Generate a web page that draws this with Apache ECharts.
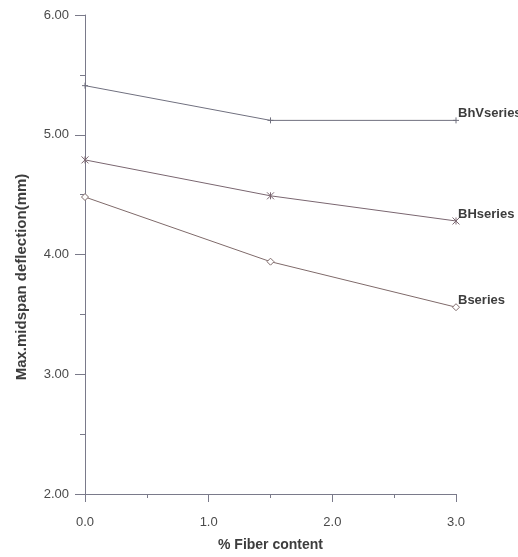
<!DOCTYPE html>
<html><head><meta charset="utf-8">
<script src="https://cdn.jsdelivr.net/npm/echarts@6/dist/echarts.min.js"></script>
<style>html,body{margin:0;padding:0;background:#fff}#c{width:518px;height:557px}</style>
</head><body><div id="c"></div>
<script>
const fiber = [0.0, 1.5, 3.0];
const bhvSeries = [5.41, 5.12, 5.12];
const bhSeries = [4.79, 4.49, 4.28];
const bSeries = [4.48, 3.94, 3.56];
const seriesNames = ['BhVseries', 'BHseries', 'Bseries'];

const chart = echarts.init(document.getElementById('c'));
const pair = arr => fiber.map((x, i) => [x, arr[i]]);
const crossPath = 'path://M0,0L10,10M10,0L0,10M5,0L5,10';
const plusPath = 'path://M5,0L5,10M3,5L7,5';
const FONT = 'Liberation Sans Narrow, Arial Narrow, sans-serif';
function mk(name, data, color, symbol, size) {
  return {
    name, type: 'line', data: pair(data),
    lineStyle: { color, width: 1 },
    itemStyle: { color: '#fff', borderColor: color, borderWidth: 1 },
    symbol, symbolSize: size, showAllSymbol: true,
    endLabel: {
      show: true, formatter: name, distance: 2, offset: [0, -7],
      fontFamily: FONT, fontWeight: 'bold', fontSize: 13, color: '#3d3d3d'
    },
    animation: false
  };
}
chart.setOption({
  animation: false,
  grid: { left: 85, top: 15, width: 371, height: 480 },
  xAxis: {
    type: 'value', min: 0, max: 3, interval: 1,
    name: '% Fiber content', nameLocation: 'middle', nameGap: 44,
    nameTextStyle: { fontFamily: FONT, fontWeight: 'bold', fontSize: 14, color: '#3d3d3d' },
    axisLine: { show: true, lineStyle: { color: '#7a7a8a', width: 1 } },
    axisTick: { show: true, inside: false, length: 8, lineStyle: { color: '#7a7a8a' } },
    minorTick: { show: true, splitNumber: 2, length: 4, lineStyle: { color: '#7a7a8a' } },
    splitLine: { show: false },
    axisLabel: { formatter: v => v.toFixed(1), margin: 22, fontFamily: FONT, fontSize: 13, color: '#4a4a4a' }
  },
  yAxis: {
    type: 'value', min: 2, max: 6, interval: 1,
    name: 'Max.midspan deflection(mm)', nameLocation: 'middle', nameGap: 56, nameRotate: 90,
    nameTextStyle: { fontFamily: FONT, fontWeight: 'bold', fontSize: 15, color: '#3d3d3d', padding: [0, 45, 0, 0] },
    axisLine: { show: true, lineStyle: { color: '#7a7a8a', width: 1 } },
    axisTick: { show: true, inside: false, length: 10, lineStyle: { color: '#7a7a8a' } },
    minorTick: { show: true, splitNumber: 2, length: 5, lineStyle: { color: '#7a7a8a' } },
    splitLine: { show: false },
    axisLabel: { formatter: v => v.toFixed(2), margin: 16, fontFamily: FONT, fontSize: 13, color: '#4a4a4a' }
  },
  series: [
    mk(seriesNames[0], bhvSeries, '#70707f', plusPath, 6),
    mk(seriesNames[1], bhSeries, '#7a6670', crossPath, 7),
    mk(seriesNames[2], bSeries, '#7f6a6a', 'diamond', 7)
  ]
});
</script></body></html>
